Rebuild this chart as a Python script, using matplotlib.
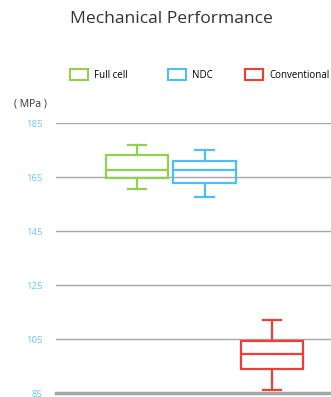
import matplotlib.pyplot as plt
from matplotlib.patches import Patch

plt.rcParams['font.family'] = ['Open Sans', 'DejaVu Sans']

# 数据: 每组箱线图的统计量
groups = ['Full cell', 'NDC', 'Conventional']
colors = ['#92D050', '#4DBFF5', '#EE3F35']
whislo = [160.6, 157.8, 86.2]
q1 = [164.6, 162.9, 94.0]
med = [167.6, 167.6, 99.7]
q3 = [173.3, 171.1, 104.2]
whishi = [176.8, 175.2, 112.2]
yticks = [85, 105, 125, 145, 165, 185]

W, H = 331, 397
fig = plt.figure(figsize=(W / 100, H / 100), dpi=100)
ax = fig.add_axes([56 / W, (H - 393.3) / H, 1 - 56 / W, (393.3 - 123.3) / H])

stats = []
for i in range(len(groups)):
    stats.append(dict(label=groups[i], whislo=whislo[i], q1=q1[i], med=med[i],
                      q3=q3[i], whishi=whishi[i], fliers=[]))

ax.set_axisbelow(True)
ax.yaxis.grid(True, color='#A6A6A6', lw=1.0)
bp = ax.bxp(stats, positions=[1, 2, 3], widths=0.92, capwidths=0.27,
            showfliers=False, patch_artist=True)
for i, c in enumerate(colors):
    bp['boxes'][i].set(facecolor='none', edgecolor=c, lw=1.6)
    bp['medians'][i].set(color=c, lw=1.6)
    for k in (2 * i, 2 * i + 1):
        bp['whiskers'][k].set(color=c, lw=1.6)
        bp['caps'][k].set(color=c, lw=1.6)

ax.set_xlim(-0.2, 3.874)
ax.set_ylim(85, 185)
ax.set_yticks(yticks)
ax.set_xticks([])
ax.tick_params(axis='y', length=0, pad=10, labelsize=6.8, labelcolor='#6EC6F7')
for s in ('top', 'right', 'left'):
    ax.spines[s].set_visible(False)
ax.spines['bottom'].set(color='#A6A6A6', lw=2.5)

# 图例: 每项单独放置
legend_x = [70, 168, 245]
for g, c, lx in zip(groups, colors, legend_x):
    fig.legend([Patch(facecolor='white', edgecolor=c, lw=1.5)], [g], loc='center left',
               bbox_to_anchor=(lx / W, (H - 75) / H), frameon=False, fontsize=7,
               handlelength=1.9, handleheight=1.4, handletextpad=0.6, borderaxespad=0,
               borderpad=0)

fig.text(171 / W, (H - 19) / H, 'Mechanical Performance', ha='center', va='center',
         fontsize=12.6, color='#333333')
fig.text(30 / W, (H - 104) / H, '( MPa )', ha='center', va='center',
         fontsize=7.5, color='#333333')

fig.savefig('out.png', dpi=100)
